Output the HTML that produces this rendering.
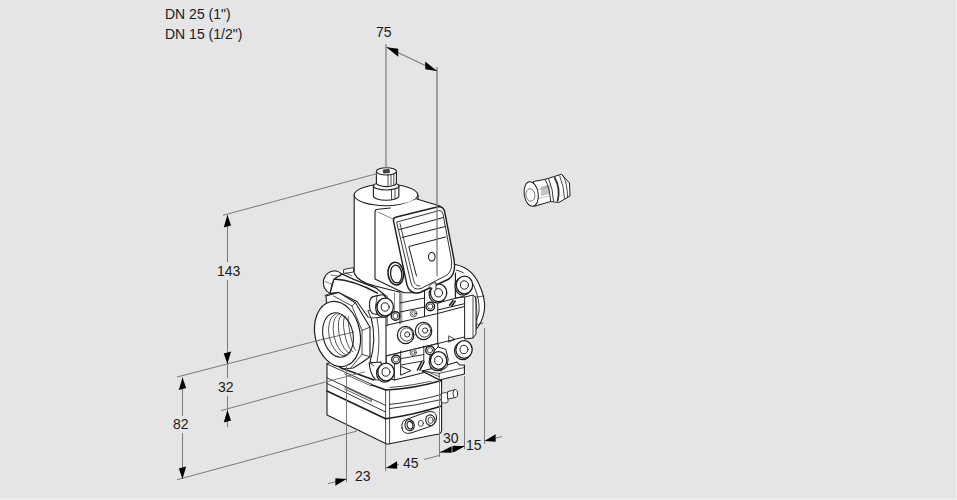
<!DOCTYPE html>
<html><head><meta charset="utf-8"><style>
html,body{margin:0;padding:0;width:957px;height:500px;overflow:hidden;background:#e5e5e5}
.t{position:absolute;font-family:"Liberation Sans",sans-serif;font-size:14px;color:#1a1a1a;white-space:nowrap;line-height:16px}
svg{position:absolute;left:0;top:0}
</style></head><body>
<svg width="957" height="500" viewBox="0 0 957 500">



<g id="body" stroke="#1e1e1e" stroke-width="1.1" fill="#fff" stroke-linejoin="round" stroke-linecap="round">
<!-- ===== lower box ===== -->
<path d="M327,363.5 L372,352 L445,352 L441.6,379.6 L441.6,430.8 Q441,434 436,434.5 L389.6,443.8 Q387,444.4 385.6,443.5 L327,415 Z"/>
<g fill="none">
<path d="M327,377.8 L385.6,405.4" stroke-width="0.9"/>
<path d="M327,383.5 L385.6,412" stroke-width="0.9"/>
<path d="M327,391 L385.6,418.7" stroke-width="1.5"/>
<path d="M327,364 L372,384.5" stroke-width="0.9"/>
<path d="M344.7,374 L371.3,386 L371.3,384 M344.7,389 L371.3,401.6 L371.3,399.6 M344.7,387 L371.3,399.6" stroke-width="0.7"/>
<path d="M372,385 L386,390 Q412,389 441.6,380.5" stroke-width="1.5"/>
<path d="M390,387.4 Q412,386 436.4,379.7" stroke-width="0.8"/>
<path d="M389.6,404.4 Q414,402 441.6,394.5" stroke-width="0.9"/>
<path d="M389.6,408.6 Q414,406 441.6,399.5" stroke-width="0.9"/>
<path d="M385.6,418.7 Q414,415 441.6,406" stroke-width="1.5"/>
<path d="M385.6,390 L385.6,443.5 M389.6,391 L389.6,443.8" stroke-width="0.8"/>
</g>
<!-- oval plate -->
<path d="M402,428 Q401,421 406,419.5 L427,412 Q436,410 436.5,417 Q437,424 430,426.5 L411,433 Q403,435 402,428 Z" stroke-width="1"/>
<ellipse cx="409.6" cy="425.2" rx="4.6" ry="5.6" transform="rotate(-15 409.6 425.2)"/><ellipse cx="410" cy="425.2" rx="2.8" ry="3.8" transform="rotate(-15 410 425.2)"/>
<ellipse cx="420.8" cy="423.4" rx="2.6" ry="3" stroke-width="0.8"/>
<ellipse cx="430.4" cy="420.2" rx="4.6" ry="5.4" transform="rotate(-15 430.4 420.2)"/><ellipse cx="430.6" cy="420.2" rx="2.6" ry="3.2" stroke-width="0.8"/>
<!-- pin -->
<path d="M441.6,393.5 L445,392.6 L448,393.2 L448,402 L445,403.2 L441.6,402.6 Z" stroke-width="0.8"/>
<path d="M448,391.6 L455,389.6 L455,397.6 L448,399 Z" stroke-width="0.9"/>
<ellipse cx="455.3" cy="393.6" rx="2.3" ry="4" stroke-width="0.9"/>
</g>
<g id="mid" stroke="#1e1e1e" stroke-width="1.1" fill="#fff" stroke-linejoin="round" stroke-linecap="round">
<!-- right flange -->
<path d="M452,264 Q470,266 478,282 Q486,298 484.4,310 Q483,322 474,332 L462,336 L450,270 Z"/>
<path d="M456,270 Q468,272 474,286 Q480,300 479,312 Q477,322 470,328" fill="none" stroke-width="0.9"/>
<!-- main body mass -->
<path d="M330,340 L326,296 L334,272 L354,268 L380,284 L430,284 L452,262 L466,296 L476,332 L464,337 L464,374 L438,380.5 L386,384 L372,380 L346,368 L330,362 Z" stroke="none"/>
<!-- upper flange block left -->
<path d="M342,274 L354,279.5 L376,288 L386,296 L384,318 L368,317 L357,301.5 L338.5,292.5 L330,293.5 L334,279 Z"/>
<path d="M334,279 Q354,280 377.4,293.2" fill="none" stroke-width="1.5"/>
<path d="M342,274 L354,279.5 Q366,284 376,288" fill="none" stroke-width="0.8"/>
<path d="M344,269.5 L353.5,267.5 L353.5,272 L344,273.5 Z" stroke-width="0.9"/>
<path d="M346,273 L352,276" fill="none" stroke-width="0.7"/>
<!-- left boss -->
<path d="M330,293.5 Q322,289 323.5,280 Q326,271.5 335,270.8 Q339,271.5 342,274 L334,279 Q331,285 330,293.5 Z"/>
<path d="M331,275 L340,276.5 M325,281.5 L332,284" fill="none" stroke-width="0.7" stroke="#444"/>
<path d="M325,295.5 L330,293.5 L338.5,292.5" fill="none" stroke-width="0.9"/>
<!-- central plate -->
<path d="M384,300 L464.3,283 L464.3,337 L384,357 Z" stroke="none"/>
<path d="M455.4,275 L470,272 L473,297 L455.4,298 Z" stroke="none"/>
<path d="M455.4,274 L455.4,298 L465,297" fill="none" stroke-width="0.9"/>
<g fill="none" stroke-width="1">
<path d="M400,292 L400,324 M424.5,289 L424.5,316 M437.7,303 L437.7,345 M455.4,273 L455.4,297"/>
<path d="M387.5,296 L387.5,326 M394.5,293 L394.5,311 M401.8,293 L401.8,323" stroke-width="0.7" stroke="#555"/>
<path d="M400,303 L424.5,298 M400,312 L424.5,307"/>
<path d="M437.7,303 L464.3,296 M437.7,310 L464.3,303.7"/>
<path d="M386,325.4 L437.7,313.5 L464.3,306.5"/>
<path d="M386,356 L438,343.5 L464.3,337"/>
</g>
<path d="M449,342 L455,339.5 L449,336 Z" fill="none" stroke-width="0.8"/>
<path d="M449.5,305.5 L453,300.5 M451.8,306 L455.3,301" stroke-width="1.5" fill="none"/>
<!-- lower strip blocks -->
<path d="M386,356 L438,343.5 L441,372 L430,371 L394.4,380 L386,377 Z"/>
<path d="M394.4,358 L394.4,380 M400.7,351 L400.7,366 M423.8,346 L423.8,361 M400.7,358.7 L423.8,354.5 M400.7,365 L423.8,360.8" fill="none" stroke-width="0.9"/>
<path d="M401,366.5 L411,370.6 L401,375 Z" fill="none" stroke-width="1"/>
<path d="M417.5,370 L421.5,362 M420,370 L424,362" stroke-width="1.6" fill="none"/>
<path d="M422,371 L447,365 L457,362 L459.6,365 L464.4,365 L464.4,374 L439.2,380 Z"/>
<path d="M439.2,373.4 L439.2,380 M439.2,373.4 L464.4,367.5 M422,371 L439.2,373.4" fill="none" stroke-width="0.8"/>
<path d="M424,372 L437.5,378.5 M427,371.5 L439,376.5" fill="none" stroke-width="0.7"/>
<!-- hex port nut -->
<path d="M326,296 L338.6,292.4 L355.4,302.7 L370,327.2 L370,356.8 L362.8,362 L353.2,368 L343,369 L330,362 Z"/>
<path d="M333.6,296 L352,306 L362,330.4 L370,327.2 M362,330.4 L362,354.4 L370,356.8 M362,354.4 L350.8,368 M352,306 L355.4,302.7" fill="none" stroke-width="0.8"/>
<path d="M341.2,368 L374,380" fill="none" stroke-width="1.4"/>
<!-- port -->
<ellipse cx="337.5" cy="334" rx="22.5" ry="33" transform="rotate(-12 337.5 334)" stroke-width="1.2"/>
<ellipse cx="338" cy="335" rx="15" ry="22.5" transform="rotate(-12 338 335)"/>
<g fill="none" stroke-width="0.75">
<path d="M336.3,313.7 A12.4,21.5 -12 0 0 345.3,355.7"/>
<path d="M339.3,314.3 A9.8,20.5 -12 0 0 347.9,354.5"/>
<path d="M342.3,315.0 A7.2,19.5 -12 0 0 350.5,353.2"/>
<path d="M345.4,315.7 A4.6,18.5 -12 0 0 353.0,351.9"/>
<path d="M348.4,316.4 A2.0,17.5 -12 0 0 355.6,350.6"/>
<path d="M316,341 L354,332" stroke-width="0.7" stroke="#333"/>
</g>
<!-- left clamp bar -->
<path d="M371,317 Q377,340 370,362 L386,366 L386,314 Z"/>
<path d="M377,318 Q381,340 377,362" fill="none" stroke-width="0.8"/>
<!-- right clamp bar -->
<path d="M465,297 L473,295 L476,298 L476,334 L473,338 L465,339 Z" stroke-width="1"/>
<path d="M473,295.5 L473,338" fill="none" stroke-width="0.8"/>
<path d="M476,297 L484,296 M476,325 L483,323" fill="none" stroke-width="0.7"/>
<path d="M475,296 Q478,310 476.5,328" fill="none" stroke-width="0.7"/>
<path d="M430.2,354.8 L438,347 L445.8,349.4 L448.2,359 L447,366.8 L441,371 L431.4,368.6 Z" stroke-width="1"/>
<!-- small screws -->
<g stroke-width="1">
<circle cx="395.5" cy="316" r="4.3" stroke-width="1.4"/><circle cx="395.5" cy="316" r="2.6" stroke-width="0.8"/>
<circle cx="430.3" cy="306.5" r="4.3" stroke-width="1.4"/><circle cx="430.3" cy="306.5" r="2.6" stroke-width="0.8"/>
<circle cx="413.5" cy="313.5" r="3.4" stroke-width="0.7"/><circle cx="413.5" cy="313.5" r="1.8" stroke-width="0.7"/>
<circle cx="396" cy="359.5" r="4.3" stroke-width="1.4"/><circle cx="396" cy="359.5" r="2.6" stroke-width="0.8"/>
<circle cx="430" cy="350.3" r="4.3" stroke-width="1.4"/><circle cx="430" cy="350.3" r="2.6" stroke-width="0.8"/>
<circle cx="413.3" cy="352.4" r="3.2" stroke-width="0.7"/><circle cx="413.3" cy="352.4" r="1.7" stroke-width="0.7"/>
</g>
<!-- big screws -->
<ellipse cx="405.6" cy="335" rx="8.2" ry="8.6" stroke-width="1.3"/><ellipse cx="406.6" cy="334.5" rx="6.2" ry="6.6" stroke-width="0.8"/><circle cx="407.2" cy="334.5" r="2.6" stroke-width="0.9"/>
<ellipse cx="423.5" cy="331" rx="8.2" ry="8.6" stroke-width="1.3"/><ellipse cx="424.5" cy="330.5" rx="6.2" ry="6.6" stroke-width="0.8"/><circle cx="425.1" cy="330.5" r="2.6" stroke-width="0.9"/>
<!-- bolts with cylinders -->
<path d="M368,311 L371,318 L386,317 L388,311 Z" stroke-width="0.9"/>
<path d="M369.5,304.7 Q369.5,297 374,296.4 L383,294.5 L391,302 L391,313 L384,316 L372.5,313.5 Q369.5,311 369.5,304.7 Z"/>
<path d="M377,295.8 Q374.5,305 377,314.5" fill="none" stroke-width="0.8"/>
<ellipse cx="383.9" cy="308.3" rx="8.2" ry="8.9" stroke-width="1.2"/><ellipse cx="385.2" cy="307.0" rx="8.2" ry="8.9" stroke-width="1.3"/><ellipse cx="385.2" cy="307.0" rx="4" ry="4.2" stroke-width="1"/>
<path d="M369.2,363 L381,362 L384,380 L375.5,379.7 Q370,374 369.2,363 Z"/>
<path d="M369.2,363 Q372,364 374,366" fill="none" stroke-width="0.8"/>
<ellipse cx="384.7" cy="373.3" rx="8.2" ry="8.9" stroke-width="1.2"/><ellipse cx="386.0" cy="372.0" rx="8.2" ry="8.9" stroke-width="1.3"/><ellipse cx="386.0" cy="372.0" rx="4" ry="4.2" stroke-width="1"/>
<ellipse cx="437.3" cy="361.8" rx="8.2" ry="8.9" stroke-width="1.2"/><ellipse cx="438.6" cy="360.5" rx="8.2" ry="8.9" stroke-width="1.3"/><ellipse cx="438.6" cy="360.5" rx="4" ry="4.2" stroke-width="1"/>
<ellipse cx="462.7" cy="350.8" rx="8.2" ry="8.9" stroke-width="1.2"/><ellipse cx="464.0" cy="349.5" rx="8.2" ry="8.9" stroke-width="1.3"/><ellipse cx="464.0" cy="349.5" rx="4" ry="4.2" stroke-width="1"/>
<ellipse cx="463.2" cy="286.3" rx="8.2" ry="8.9" stroke-width="1.2"/><ellipse cx="464.5" cy="285.0" rx="8.2" ry="8.9" stroke-width="1.3"/><ellipse cx="464.5" cy="285.0" rx="4" ry="4.2" stroke-width="1"/>
<ellipse cx="437.3" cy="294.1" rx="8.2" ry="8.9" stroke-width="1.2"/><ellipse cx="438.6" cy="292.8" rx="8.2" ry="8.9" stroke-width="1.3"/><ellipse cx="438.6" cy="292.8" rx="4" ry="4.2" stroke-width="1"/>
</g>
<g id="top" stroke="#1e1e1e" stroke-width="1.1" fill="#fff" stroke-linejoin="round" stroke-linecap="round">
<!-- coil cylinder -->
<path d="M354.2,195 L354.2,273 Q358,282 375,286 L399,292 L420,286 L418,195 Z"/>
<ellipse cx="386" cy="195" rx="31.8" ry="10.7"/>
<!-- cover left face + top -->
<path d="M375,212 Q375,209.2 378,209.2 L390,207.5 Q405,204 416.8,199 L441,207 L395,218 L412,290 L404,292.8 L398.8,290.4 L375,279 Z" stroke="none"/>
<path d="M390.4,208 L378,209.2 Q375,209.2 375,212 L375,279 L398.8,290.4 L404,292.8 L415,292.8 M416.8,199 L440,206" fill="none"/>
<path d="M378,212 L393,219" fill="none" stroke-width="0.8" stroke="#666"/>
<!-- grommet -->
<ellipse cx="395.8" cy="273.6" rx="7.8" ry="11.4" transform="rotate(-6 395.8 273.6)" stroke-width="1.6"/>
<ellipse cx="396.2" cy="274" rx="5.6" ry="9" transform="rotate(-6 396.2 274)" stroke-width="1.3"/>
<!-- front plate -->
<path d="M393.5,221 Q393,217.6 396.5,217 L438,206.8 Q443,206 444.5,211 L453.5,257 Q457,273 449,279 L420,292.5 Q410,295 407,285 Z" stroke-width="1.4"/>
<path d="M397,222 L439.5,210.5 Q442,210 443,214 L451,257 Q453.5,270 447,275 L421,288.5 Q413,291 411,283 Z" fill="none" stroke-width="0.9"/>
<path d="M400,223.5 L413.8,281 Q415,286 420,286" fill="none" stroke-width="0.8"/>
<path d="M399.5,229.5 L443.2,217.6 M402,237.5 L445,226.6" fill="none" stroke-width="1"/>
<path d="M416.5,276 L408.8,246.5 L445.6,237" fill="none" stroke-width="1"/>
<ellipse cx="431.8" cy="256.8" rx="3.3" ry="4.3"/>
<path d="M428.8,286.5 L432.4,283.2 L436,282.6 L436,289.2" fill="#fff" stroke-width="0.9"/>
<!-- knob -->
<path d="M373.4,186 L373.4,196 A12.75,4.2 0 0 0 398.9,196 L398.9,186 Z"/>
<ellipse cx="386.2" cy="186" rx="12.7" ry="4"/>
<path d="M391.5,189.5 L391.5,199.5 M395,189 L395,198.5" fill="none" stroke-width="0.8"/>
<path d="M376.4,171.4 L376.4,183 A10,3.6 0 0 0 396.4,183 L396.4,171.4 Z"/>
<ellipse cx="386.4" cy="171.4" rx="10" ry="3.6"/>
<path d="M388,174.5 L388,185.5 M391,174.5 L391,185 M393.8,174 L393.8,184.5" fill="none" stroke-width="0.8"/>
<path d="M383.5,170 L389,169.5 L389.5,172.5 L384,173 Z" fill="#444" stroke-width="0.8"/>
</g>
<g id="gland" stroke="#1e1e1e" stroke-width="0.9" fill="#fff" stroke-linejoin="round">
<path d="M533.5,181.5 L545.2,179.3 L561.4,174.3 L569.5,183 L570,196 L558.7,202.5 L550.6,201.5 L534.4,206.3 Z" stroke-width="1"/>
<path d="M540.7,186.5 L549.7,184.5 L550.2,194 L541,196 Z" fill="#c4c4c4" stroke="none"/>
<path d="M536,190 L549,187 M536,199 L550,196" fill="none" stroke="#999" stroke-width="0.6"/>
<ellipse cx="531.2" cy="194" rx="7" ry="12.4" transform="rotate(-8 531.2 194)" stroke-width="1"/>
<ellipse cx="530.4" cy="195" rx="4.5" ry="6.3" transform="rotate(-8 530.4 195)" stroke-width="0.7" stroke="#444"/>
<path d="M545.2,179.3 Q550,189 550.6,201.5 M548.5,178.6 Q553,189 553.5,201" fill="none"/>
<path d="M554.5,177.2 Q561,189 557.5,201.5" fill="none" stroke-width="1.8" stroke="#333"/>
<path d="M559.6,175.6 Q564,186 564.5,198.8 M562.5,174.5 Q567.5,183 567.5,197.2" fill="none" stroke-width="0.8"/>
</g>

<g id="dims" stroke="#7a7a7a" stroke-width="1" fill="none">
<!-- 75 -->
<line x1="386" y1="44" x2="386" y2="168" stroke-width="1.2"/>
<line x1="437" y1="67" x2="437" y2="276" stroke-width="1.3"/>
<line x1="386" y1="47" x2="437" y2="71" stroke-width="1.2"/>
<!-- 143 upper ext -->
<line x1="223" y1="215.3" x2="377" y2="173.6"/>
<line x1="227.5" y1="215" x2="227.5" y2="262"/>
<line x1="227.5" y1="280" x2="227.5" y2="378"/>
<line x1="227.5" y1="396" x2="227.5" y2="427"/>
<!-- port ext line -->
<line x1="177" y1="377" x2="320" y2="340"/>
<!-- 32 lower ext -->
<line x1="221" y1="410.6" x2="327" y2="381.6"/>
<!-- 82 -->
<line x1="182.5" y1="377" x2="182.5" y2="416"/>
<line x1="182.5" y1="433" x2="182.5" y2="479"/>
<line x1="177" y1="479.7" x2="357" y2="431"/>
<line x1="327" y1="381.6" x2="365" y2="371.8"/>
<!-- bottom verticals -->
<line x1="346.5" y1="365" x2="346.5" y2="482"/>
<line x1="385.5" y1="444" x2="385.5" y2="471"/>
<line x1="439.5" y1="381" x2="439.5" y2="457"/>
<line x1="464.5" y1="376" x2="464.5" y2="449"/>
<line x1="484.5" y1="328" x2="484.5" y2="444"/>
<!-- bottom dim lines -->
<line x1="328" y1="483.7" x2="346.5" y2="479"/>
<line x1="386" y1="468" x2="399" y2="464.5"/>
<line x1="424" y1="459.5" x2="439" y2="455.5"/>
<line x1="439" y1="452.5" x2="464" y2="446"/>
<line x1="484" y1="441" x2="502" y2="436.5"/>
</g><g id="arrows" fill="#000" stroke="none">
<polygon points="386.50,47.20 398.26,56.64 398.26,48.84"/>
<polygon points="437.00,71.00 425.24,69.36 425.24,61.56"/>
<polygon points="227.40,215.00 231.07,225.51 223.73,227.49"/>
<polygon points="227.40,364.00 231.07,351.51 223.73,353.49"/>
<polygon points="227.40,410.00 231.07,420.51 223.73,422.49"/>
<polygon points="182.50,377.50 186.17,388.01 178.83,389.99"/>
<polygon points="182.50,479.00 186.17,466.51 178.83,468.49"/>
<polygon points="346.50,479.00 335.40,485.80 335.40,478.20"/>
<polygon points="386.00,468.00 397.10,468.80 397.10,461.20"/>
<polygon points="439.50,452.50 451.63,452.79 451.63,446.19"/>
<polygon points="464.50,446.30 452.37,452.61 452.37,446.01"/>
<polygon points="464.50,446.30 453.82,452.15 453.82,445.75"/>
<polygon points="484.50,441.00 495.60,441.80 495.60,434.20"/>
</g>
</svg>
<div class="t" style="left:165px;top:6px">DN 25 (1")</div>
<div class="t" style="left:165px;top:26px">DN 15 (1/2")</div>
<div class="t" style="left:376px;top:24px">75</div>
<div class="t" style="left:217px;top:263px">143</div>
<div class="t" style="left:218px;top:379px">32</div>
<div class="t" style="left:173px;top:416px">82</div>
<div class="t" style="left:355px;top:468px">23</div>
<div class="t" style="left:403px;top:455px">45</div>
<div class="t" style="left:443px;top:430px">30</div>
<div class="t" style="left:466px;top:437px">15</div>
<div id="edge" style="position:absolute;left:956px;top:0;width:1px;height:500px;background:#f1f1f1"></div><div style="position:absolute;left:0;top:499px;width:957px;height:1px;background:#f1f1f1"></div>
</body></html>
